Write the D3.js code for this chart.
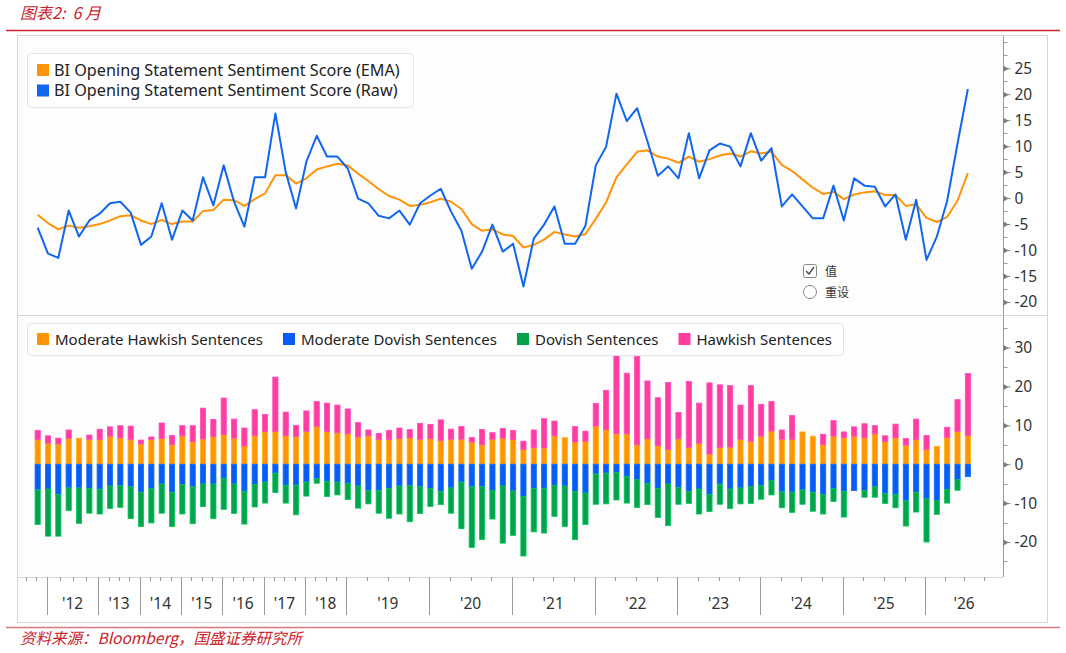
<!DOCTYPE html>
<html>
<head>
<meta charset="utf-8">
<script src="https://cdn.jsdelivr.net/npm/d3@7"></script>
<style>
  body { margin: 0; background: #fff; }
  svg { display: block; }
</style>
</head>
<body>
<svg id="chart" width="1066" height="653"></svg>
<script>
// one value per press conference (meeting index 0..90)
var rawScore = [-5.7, -10.7, -11.5, -2.4, -7.4, -4.3, -3.0, -1.0, -0.7, -2.8,
    -9.0, -7.4, -1.0, -8.0, -2.4, -4.3, 4.0, -1.4, 6.3, -0.7,
    -5.5, 4.0, 4.0, 16.3, 5.0, -2.0, 7.0, 12.0, 8.0, 8.0,
    5.7, -0.1, -1.0, -3.4, -3.9, -2.4, -5.1, -1.0, 0.5, 1.8,
    -2.6, -6.3, -13.6, -10.3, -5.1, -10.3, -8.8, -17.0, -7.8, -5.1,
    -1.6, -8.8, -8.8, -5.3, 6.3, 9.9, 20.1, 14.8, 17.3, 10.9,
    4.3, 6.1, 3.8, 12.5, 3.8, 9.2, 10.5, 9.9, 6.1, 12.5,
    7.2, 9.6, -1.6, 0.7, -1.6, -3.9, -3.9, 2.4, -4.3, 3.8,
    2.4, 2.2, -1.6, 0.7, -8.0, -0.3, -11.9, -7.4, -0.5, 10.5,
    21.0];

var emaScore = [-3.2, -4.8, -6.0, -5.3, -5.7, -5.4, -5.0, -4.3, -3.5, -3.3,
    -4.3, -5.0, -4.2, -5.0, -4.5, -4.5, -2.5, -2.3, -0.3, -0.4,
    -1.5, -0.2, 0.9, 4.4, 4.4, 2.8, 3.8, 5.5, 6.1, 6.6,
    6.3, 4.7, 3.3, 1.7, 0.4, -0.3, -1.5, -1.3, -0.8, -0.1,
    -0.7, -2.1, -5.0, -6.3, -6.0, -7.0, -7.3, -9.5, -9.0, -8.0,
    -6.5, -7.0, -7.4, -6.9, -4.0, -0.8, 4.0, 6.5, 8.9, 9.2,
    8.0, 7.6, 6.8, 8.0, 7.0, 7.5, 8.2, 8.6, 8.0, 9.0,
    8.6, 8.9, 6.4, 5.2, 3.6, 2.0, 0.8, 1.2, -0.2, 0.7,
    1.1, 1.3, 0.6, 0.6, -1.5, -1.2, -3.8, -4.6, -3.6, -0.5,
    4.8];

var modHawkish = [6.3, 5.4, 5.2, 6.6, 6.7, 6.4, 6.3, 7.2, 6.8, 6.3,
    5.2, 6.3, 6.6, 5.0, 7.3, 5.8, 6.5, 7.1, 7.6, 6.7,
    4.7, 7.4, 8.4, 8.4, 7.3, 7.1, 8.4, 9.7, 8.4, 8.1,
    7.8, 7.0, 7.3, 6.3, 6.3, 6.6, 6.8, 6.4, 6.6, 6.1,
    6.4, 6.4, 5.7, 5.0, 6.4, 6.7, 6.3, 3.8, 4.2, 4.2,
    7.3, 6.8, 5.7, 5.9, 9.8, 8.9, 7.8, 7.8, 5.0, 6.5,
    4.8, 3.8, 6.5, 4.3, 5.4, 2.6, 4.3, 4.4, 6.4, 5.9,
    7.2, 8.5, 6.4, 6.4, 8.3, 7.2, 5.0, 7.2, 6.8, 7.2,
    6.8, 7.8, 5.8, 6.8, 4.9, 6.3, 3.8, 4.6, 6.9, 8.4,
    7.4];

var hawkish = [2.4, 1.9, 1.5, 2.2, 0, 1.1, 2.7, 2.4, 3.1, 3.5,
    1.0, 0.7, 4.0, 2.4, 2.6, 4.1, 7.9, 4.4, 9.4, 4.9,
    4.6, 6.6, 4.4, 14.0, 6.1, 2.9, 5.3, 6.4, 7.3, 7.1,
    6.4, 3.7, 1.5, 1.6, 2.4, 2.7, 2.1, 4.1, 3.6, 5.3,
    2.6, 3.3, 1.2, 3.9, 1.7, 2.5, 2.4, 2.1, 4.6, 7.5,
    3.8, 0, 4.0, 2.6, 5.8, 10.1, 20.3, 15.6, 22.7, 14.9,
    12.3, 17.2, 6.8, 17.0, 10.3, 18.3, 16.1, 15.8, 8.8, 14.3,
    8.2, 7.6, 2.4, 6.1, 0, 0, 2.7, 4.0, 1.5, 2.4,
    3.6, 2.1, 1.5, 3.5, 1.7, 5.3, 3.6, 0, 2.6, 8.2,
    15.9];

var modDovish = [6.6, 6.4, 7.8, 6.1, 6.1, 6.2, 6.4, 5.6, 5.5, 5.8,
    7.2, 6.3, 5.1, 7.2, 5.2, 5.8, 5.1, 5.1, 3.7, 5.1,
    7.0, 5.2, 4.6, 2.3, 5.4, 5.4, 4.6, 3.7, 4.4, 4.6,
    4.9, 5.6, 6.8, 6.8, 6.2, 5.6, 5.5, 5.8, 6.3, 7.0,
    6.1, 4.6, 5.8, 5.8, 6.8, 5.6, 6.9, 8.3, 6.2, 6.2,
    5.5, 5.6, 7.0, 7.4, 2.5, 2.3, 2.1, 3.2, 4.0, 4.9,
    6.2, 5.1, 6.0, 7.0, 6.4, 7.8, 5.1, 6.4, 6.1, 5.8,
    5.5, 4.2, 7.1, 7.2, 6.6, 7.2, 7.8, 6.3, 7.0, 6.8,
    6.8, 5.8, 7.5, 7.8, 9.4, 7.2, 8.9, 9.4, 6.5, 4.0,
    3.2];

var dovish = [8.9, 12.1, 10.7, 5.8, 9.1, 6.4, 6.4, 5.8, 5.6, 8.2,
    8.8, 8.8, 7.5, 8.8, 7.6, 9.5, 5.8, 8.9, 7.9, 7.6,
    8.4, 5.8, 5.4, 5.0, 4.6, 7.6, 3.6, 1.2, 3.9, 3.3,
    4.2, 5.7, 3.4, 5.8, 7.7, 7.2, 9.3, 6.9, 4.6, 3.4,
    6.5, 12.0, 15.6, 13.6, 7.3, 14.7, 11.4, 15.3, 11.2, 11.5,
    7.9, 10.4, 12.4, 8.1, 7.8, 7.9, 7.1, 6.8, 7.1, 5.5,
    7.5, 10.7, 4.3, 3.1, 6.4, 4.4, 5.2, 5.0, 4.1, 4.3,
    3.5, 3.7, 4.1, 5.2, 3.7, 4.9, 5.0, 3.3, 6.6, 0,
    1.7, 2.7, 2.6, 3.4, 6.5, 5.1, 11.1, 3.5, 3.5, 2.7,
    0];

// x axis: year labels and index of the first meeting of each year
var yearLabels = ["'12", "'13", "'14", "'15", "'16", "'17", "'18", "'19", "'20",
    "'21", "'22", "'23", "'24", "'25", "'26"];
var yearFirstMeeting = [1, 6, 10, 14, 18, 22, 26, 30, 38, 46, 54, 62, 70, 78, 86];

var topTicks = [-20, -15, -10, -5, 0, 5, 10, 15, 20, 25];
var bottomTicks = [-20, -10, 0, 10, 20, 30];

var lineNames = ["BI Opening Statement Sentiment Score (EMA)", "BI Opening Statement Sentiment Score (Raw)"];
var barNames = ["Moderate Hawkish Sentences", "Moderate Dovish Sentences", "Dovish Sentences", "Hawkish Sentences"];

var C = {
    orange: "#ff9408",
    blue: "#1166f0",
    barBlue: "#0a5bf5",
    green: "#05a24c",
    pink: "#ff3d9e",
    red: "#c8232c",
    grid: "#d6d6d6"
};

var svg = d3.select("#chart");
var font = "'Noto Sans', 'DejaVu Sans', sans-serif";
var cjk = "'Noto Sans CJK SC', sans-serif";

// frame geometry
var L = 17, R = 1003, frameR = 1047;
var topY0 = 36, topY1 = 315, botY0 = 316, botY1 = 577, frameB = 622;

var x = d3.scaleLinear().domain([-2, 93.4]).range([L, R]);
var yTop = d3.scaleLinear().domain([-22.5, 31.2]).range([topY1, topY0]);
var yBot = d3.scaleLinear().domain([-29, 38.1]).range([botY1, botY0]);

// header
svg.append("text").attr("x", 20).attr("y", 19)
    .attr("font-family", cjk).attr("font-style", "italic").attr("font-size", 16)
    .attr("fill", C.red).attr("xml:space", "preserve").text("图表2:  6 月");
svg.append("line").attr("x1", 6).attr("x2", 1060).attr("y1", 30.5).attr("y2", 30.5)
    .attr("stroke", C.red).attr("stroke-width", 1.3);

// frame
svg.append("rect").attr("x", L + 0.5).attr("y", 35.5).attr("width", frameR - L).attr("height", frameB - 35)
    .attr("fill", "#fff").attr("stroke", C.grid);
svg.append("rect").attr("x", L + 1).attr("y", topY0).attr("width", R - L - 1).attr("height", topY1 - topY0)
    .attr("fill", "#fdfdfd");
svg.append("rect").attr("x", L + 1).attr("y", botY0).attr("width", R - L - 1).attr("height", botY1 - botY0)
    .attr("fill", "#fdfdfd");
svg.append("line").attr("x1", L).attr("x2", frameR).attr("y1", topY1 + 0.5).attr("y2", topY1 + 0.5)
    .attr("stroke", C.grid);
svg.append("line").attr("x1", L).attr("x2", R).attr("y1", botY1 + 0.5).attr("y2", botY1 + 0.5)
    .attr("stroke", C.grid);

// right axes
function rightAxis(scale, ticks, step, y0, y1) {
    var g = svg.append("g").attr("transform", "translate(" + (R + 0.5) + ",0)");
    g.append("line").attr("y1", y0).attr("y2", y1).attr("stroke", "#9a9a9a");
    var minor = d3.range(scale.domain()[0], scale.domain()[1], step / 2)
        .map(function (v) { return Math.ceil(v / (step / 2)) * (step / 2); })
        .filter(function (v) { return ticks.indexOf(v) < 0 && scale(v) > y0 && scale(v) < y1; });
    g.selectAll(".minor").data(minor).enter().append("line")
        .attr("y1", function (d) { return Math.round(scale(d)) + 0.5; })
        .attr("y2", function (d) { return Math.round(scale(d)) + 0.5; })
        .attr("x2", 4).attr("stroke", "#9a9a9a");
    var axis = d3.axisRight(scale).tickValues(ticks).tickSize(7).tickPadding(4)
        .tickFormat(function (d) { return String(d); });
    var a = svg.append("g").attr("transform", "translate(" + (R + 0.5) + ",0)").call(axis);
    a.select(".domain").remove();
    a.selectAll(".tick line").attr("stroke", "#8a8a8a");
    a.selectAll(".tick").append("path").attr("d", "M0,-3L5,0L0,3Z").attr("fill", "#7a7a7a");
    a.selectAll(".tick text").attr("font-family", font).attr("font-size", 15.5).attr("fill", "#333");
}
rightAxis(yTop, topTicks, 5, topY0, topY1);
rightAxis(yBot, bottomTicks, 10, botY0, botY1);

// bottom axis: year separators, labels and quarter ticks
var sepIdx = yearFirstMeeting.map(function (d) { return d - 0.12; });
var yearEnds = sepIdx.slice(1).concat([x.domain()[1]]);
var xg = svg.append("g");
xg.selectAll(".sep").data(sepIdx).enter().append("line")
    .attr("x1", function (d) { return Math.round(x(d)) + 0.5; })
    .attr("x2", function (d) { return Math.round(x(d)) + 0.5; })
    .attr("y1", botY1).attr("y2", 615).attr("stroke", "#9a9a9a");
var quarterTicks = [];
sepIdx.forEach(function (s, i) {
    var e = yearEnds[i];
    for (var k = 1; k < 4; k++) quarterTicks.push(s + (e - s) * k / 4);
});
quarterTicks.push(sepIdx[0] - 1, sepIdx[0] - 2);
xg.selectAll(".qt").data(quarterTicks.filter(function (d) { return d < x.domain()[1] - 0.3; })).enter().append("line")
    .attr("x1", function (d) { return Math.round(x(d)) + 0.5; })
    .attr("x2", function (d) { return Math.round(x(d)) + 0.5; })
    .attr("y1", botY1).attr("y2", botY1 + 4).attr("stroke", "#9a9a9a");
xg.selectAll(".yl").data(yearLabels).enter().append("text")
    .attr("x", function (d, i) { return (x(sepIdx[i]) + x(yearEnds[i])) / 2; })
    .attr("y", 609).attr("text-anchor", "middle")
    .attr("font-family", font).attr("font-size", 15.5).attr("fill", "#333")
    .text(function (d) { return d; });

// stacked bars
var rows = modHawkish.map(function (d, i) {
    return { i: i, modHawkish: d, hawkish: hawkish[i], modDovish: -modDovish[i], dovish: -dovish[i] };
});
var keys = ["modHawkish", "hawkish", "modDovish", "dovish"];
var keyColor = { modHawkish: C.orange, hawkish: C.pink, modDovish: C.barBlue, dovish: C.green };
var stack = d3.stack().keys(keys).offset(d3.stackOffsetDiverging)(rows);
var bw = 5.2;
svg.append("g").selectAll("g").data(stack).enter().append("g")
    .attr("fill", function (s) { return keyColor[s.key]; })
    .attr("stroke", function (s) { return d3.color(keyColor[s.key]).brighter(0.6); })
    .attr("stroke-width", 0.8)
    .selectAll("rect").data(function (s) { return s; }).enter().append("rect")
    .filter(function (d) { return d[1] !== d[0]; })
    .attr("x", function (d) { return x(d.data.i) - bw / 2; })
    .attr("width", bw)
    .attr("y", function (d) { return yBot(Math.max(d[0], d[1])); })
    .attr("height", function (d) { return Math.abs(yBot(d[0]) - yBot(d[1])); });

// lines
var line = d3.line().x(function (d, i) { return x(i); }).y(function (d) { return yTop(d); });
svg.append("path").datum(emaScore).attr("d", line).attr("fill", "none")
    .attr("stroke", C.orange).attr("stroke-width", 2).attr("stroke-linejoin", "round");
svg.append("path").datum(rawScore).attr("d", line).attr("fill", "none")
    .attr("stroke", C.blue).attr("stroke-width", 2).attr("stroke-linejoin", "round");

// legends
var lg1 = svg.append("g");
lg1.append("rect").attr("x", 27.5).attr("y", 53.5).attr("width", 386).attr("height", 54).attr("rx", 4)
    .attr("fill", "#fff").attr("stroke", "#e4e4e4");
lineNames.forEach(function (n, i) {
    var yy = 70 + i * 20.5;
    lg1.append("rect").attr("x", 37).attr("y", yy - 6).attr("width", 12).attr("height", 12)
        .attr("fill", i === 0 ? C.orange : C.blue);
    lg1.append("text").attr("x", 54).attr("y", yy + 5.5).attr("font-family", font).attr("font-size", 16.2)
        .attr("fill", "#222").text(n);
});

var lg2 = svg.append("g");
lg2.append("rect").attr("x", 27.5).attr("y", 323.5).attr("width", 816).attr("height", 32).attr("rx", 4)
    .attr("fill", "#fff").attr("stroke", "#e4e4e4");
var barColors = [C.orange, C.barBlue, C.green, C.pink];
var lx = 37;
barNames.forEach(function (n, i) {
    lg2.append("rect").attr("x", lx).attr("y", 333).attr("width", 12).attr("height", 12).attr("fill", barColors[i]);
    var t = lg2.append("text").attr("x", lx + 18).attr("y", 344.5).attr("font-family", font).attr("font-size", 15)
        .attr("fill", "#222").text(n);
    lx += 18 + t.node().getComputedTextLength() + 20;
});

// checkbox widget
var cb = svg.append("g").attr("font-family", cjk).attr("font-size", 12).attr("fill", "#333");
cb.append("rect").attr("x", 803.5).attr("y", 264.5).attr("width", 13).attr("height", 13).attr("rx", 2)
    .attr("fill", "#fff").attr("stroke", "#888");
cb.append("path").attr("d", "M806,271L809,274L814,267").attr("fill", "none").attr("stroke", "#444").attr("stroke-width", 1.3);
cb.append("circle").attr("cx", 810).attr("cy", 292).attr("r", 6.5).attr("fill", "#fff").attr("stroke", "#888");
cb.append("text").attr("x", 825).attr("y", 276).text("值");
cb.append("text").attr("x", 825).attr("y", 297).text("重设");

// footer
svg.append("line").attr("x1", 6).attr("x2", 1060).attr("y1", 627.5).attr("y2", 627.5)
    .attr("stroke", "#d9797d").attr("stroke-width", 1.3);
svg.append("text").attr("x", 20).attr("y", 644)
    .attr("font-family", cjk).attr("font-style", "italic").attr("font-size", 15.5)
    .attr("fill", C.red).text("资料来源：Bloomberg，国盛证券研究所");
</script>
</body>
</html>
